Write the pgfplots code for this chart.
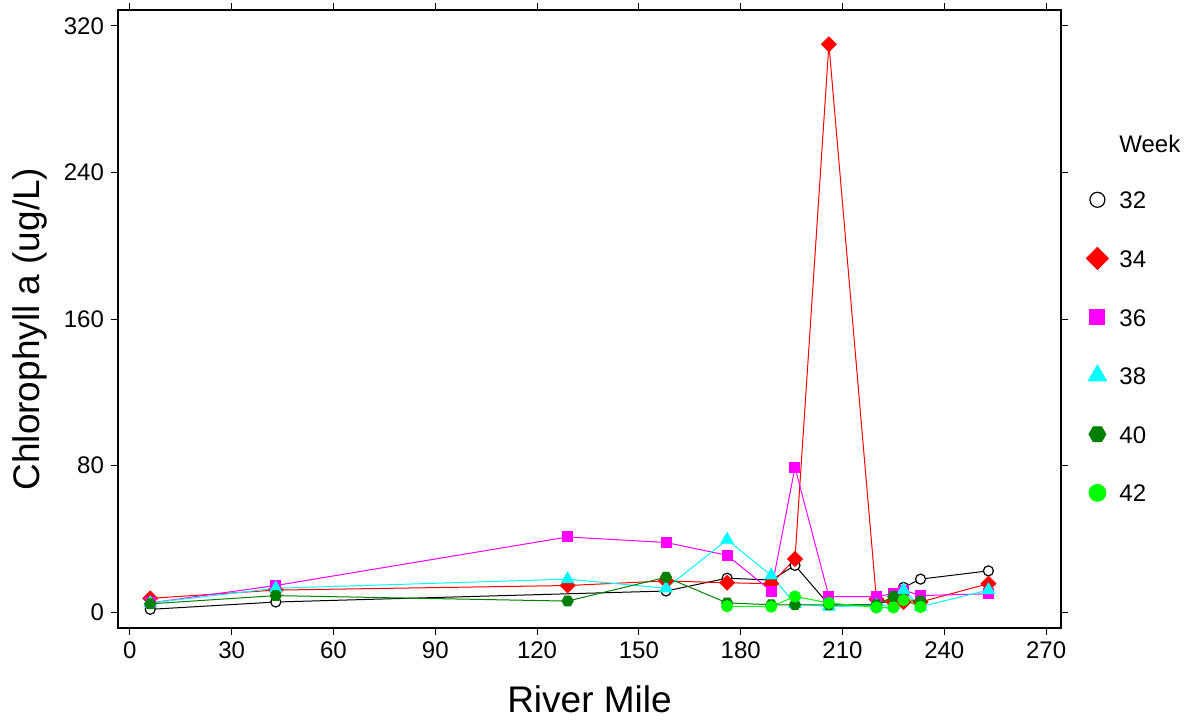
\documentclass[border=0pt]{standalone}
\usepackage{fontspec}
\setmainfont{Liberation Sans}
\usepackage{pgfplots}
\pgfplotsset{compat=1.18}
\usetikzlibrary{plotmarks}

% filled hexagon with points to the left and right
\pgfdeclareplotmark{hexagon*}{%
  \pgfpathmoveto{\pgfqpoint{\pgfplotmarksize}{0pt}}%
  \pgfpathlineto{\pgfqpoint{0.5\pgfplotmarksize}{0.866\pgfplotmarksize}}%
  \pgfpathlineto{\pgfqpoint{-0.5\pgfplotmarksize}{0.866\pgfplotmarksize}}%
  \pgfpathlineto{\pgfqpoint{-\pgfplotmarksize}{0pt}}%
  \pgfpathlineto{\pgfqpoint{-0.5\pgfplotmarksize}{-0.866\pgfplotmarksize}}%
  \pgfpathlineto{\pgfqpoint{0.5\pgfplotmarksize}{-0.866\pgfplotmarksize}}%
  \pgfpathclose
  \pgfusepathqfillstroke
}

\definecolor{wkred}{RGB}{255,0,0}
\definecolor{wkmag}{RGB}{255,0,255}
\definecolor{wkcyan}{RGB}{0,255,255}
\definecolor{wkdkgreen}{RGB}{0,128,0}
\definecolor{wklime}{RGB}{0,255,0}

\begin{document}
\begin{tikzpicture}
\begin{axis}[
  name=ax,
  scale only axis,
  width=471.5pt, height=309pt,
  xmin=-3.5, xmax=274.4, ymin=-8.7, ymax=328.7,
  xtick={0,30,...,270}, ytick={0,80,...,320},
  tick align=outside,
  xtick pos=both, ytick pos=both,
  xticklabel pos=left, yticklabel pos=left,
  major tick length=3.5pt,
  tick style={black, line width=0.5pt},
  axis line style={line width=0.6pt},
  ticklabel style={font=\fontsize{12}{14}\selectfont},
  /pgf/number format/assume math mode=true,
  xlabel={River Mile},
  ylabel={Chlorophyll a (ug/L)},
  label style={font=\fontsize{18.5}{22}\selectfont},
  xlabel style={at={(axis description cs:0.5,-0.1149)}, anchor=center},
  ylabel style={at={(axis description cs:-0.0933,0.4838)}, anchor=center},
  legend style={draw=none, fill=none, at={(axis description cs:1,0.5)},
    anchor=west, xshift=10pt, inner sep=0pt, column sep=3pt, row sep=18.3pt,
    font=\fontsize{12}{14}\selectfont,
    nodes={inner sep=0pt, text height=9pt, text depth=0pt}},
  legend cell align=left,
  legend image code/.code={%
    \path[draw=none, fill=none] (-8pt,-5.5pt) rectangle (8pt,5.5pt);
    \draw[#1, only marks, every mark/.append style={scale=1.5}]
      plot coordinates {(0pt,0pt)};},
]
\addlegendimage{empty legend}
\addlegendentry{Week}

% Week 32
\addplot[black, line width=0.5pt, mark=*, mark size=2.5pt,
  mark options={fill=white, line width=0.6pt}] coordinates {
  (6,1.5) (43,5.5) (158,11.5) (176,18.5) (189,17.5) (196,25.5)
  (206,4) (220,4) (225,7) (228,13.5) (233,18) (253,22.5)};
\addlegendentry{32}

% Week 34
\addplot[wkred, line width=0.5pt, mark=square*, mark size=2.6pt,
  mark options={rotate=45, fill=wkred}] coordinates {
  (6,7.5) (43,12) (129,14.5) (158,17) (176,16) (189,15.5) (196,29)
  (206,310) (220,7) (225,5.5) (228,5.5) (233,5.5) (253,15.5)};
\addlegendentry{34}

% Week 36
\addplot[wkmag, line width=0.5pt, mark=square*, mark size=2.5pt,
  mark options={fill=wkmag}] coordinates {
  (6,5) (43,14.5) (129,41) (158,38) (176,31) (189,11.5) (196,79)
  (206,8.5) (220,8.5) (225,10) (228,12) (233,9) (253,10)};
\addlegendentry{36}

% Week 38
\addplot[wkcyan, line width=0.5pt, mark=triangle*, mark size=3.5pt,
  mark options={fill=wkcyan}] coordinates {
  (6,5) (43,13) (129,18) (158,13) (176,39.5) (189,20) (196,4.5)
  (206,3) (220,3.5) (225,4) (228,12) (233,3) (253,12)};
\addlegendentry{38}

% Week 40
\addplot[wkdkgreen, line width=0.5pt, mark=hexagon*, mark size=2.8pt,
  mark options={fill=wkdkgreen}] coordinates {
  (6,4.5) (43,9) (129,6) (158,19) (176,5) (189,4) (196,4)
  (206,4) (220,4) (225,8.5) (228,7) (233,6)};
\addlegendentry{40}

% Week 42
\addplot[wklime, line width=0.5pt, mark=*, mark size=2.8pt,
  mark options={fill=wklime}] coordinates {
  (176,3.2) (189,3) (196,8.5) (206,5) (220,2.5) (225,2.5) (228,6.5) (233,2.8)};
\addlegendentry{42}
\end{axis}
\pgfresetboundingbox
\path[use as bounding box] ([shift={(-59pt,-46.5pt)}]ax.south west)
  rectangle ([shift={(65.5pt,5pt)}]ax.north east);
\end{tikzpicture}
\end{document}
